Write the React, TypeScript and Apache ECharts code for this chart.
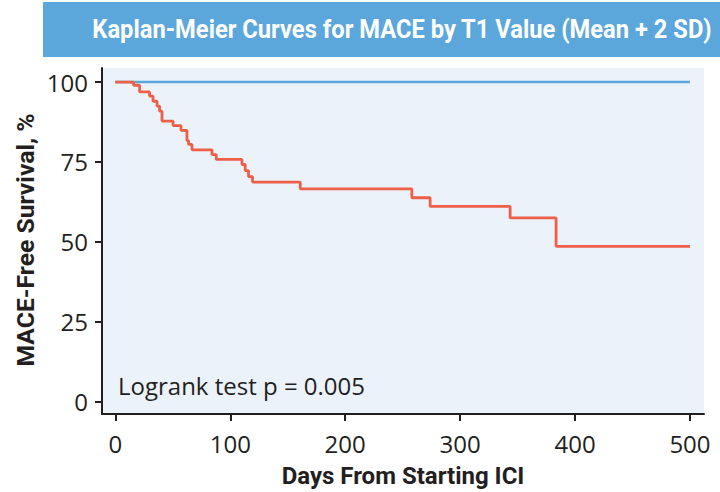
import React, { useEffect, useRef } from "react";
import * as echarts from "echarts";

const titleText = "Kaplan-Meier Curves for MACE by T1 Value (Mean + 2 SD)";
const yAxisTitle = "MACE-Free Survival, %";
const xAxisTitle = "Days From Starting ICI";
const annotation = "Logrank test p = 0.005";

const xTicks = [0, 100, 200, 300, 400, 500];
const yTicks = [0, 25, 50, 75, 100];

// Low T1 group (blue): no events
const lowDays = [0, 500];
const lowSurv = [100, 100];

// High T1 group (red): step survival
const highDays = [0, 15.9, 21.1, 29.8, 32.8, 36.3, 38.5, 40.6, 50.2, 57.1, 62.3, 63.7, 66.7, 84.1, 87.8, 110.2, 113, 115.9, 119.4, 160.9, 258, 273.9, 343.5, 383.5, 500];
const highSurv = [100, 99.0, 96.9, 95.6, 94.0, 92.5, 90.9, 87.8, 86.4, 84.9, 81.7, 80.5, 78.8, 77.3, 75.8, 74.2, 72.3, 70.4, 68.7, 66.6, 63.8, 61.1, 57.5, 48.6, 48.6];

const BLUE = "#5ba7dc";
const RED = "#ef5f48";
const AXIS = "#231f20";

export default function App() {
  const ref = useRef<HTMLDivElement>(null);
  useEffect(() => {
    if (!ref.current) return;
    const chart = echarts.init(ref.current, undefined, { renderer: "svg" });
    const option: any = {
      animation: false,
      backgroundColor: "#ffffff",
      grid: {
        left: 102,
        right: 16,
        top: 68,
        bottom: 78,
        show: true,
        backgroundColor: "#ebf2fa",
        borderWidth: 0,
      },
      xAxis: {
        type: "value",
        min: -11.6,
        max: 512.2,
        splitLine: { show: false },
        axisLine: { show: true, onZero: false, lineStyle: { color: AXIS, width: 2 } },
        axisTick: { show: true, customValues: xTicks, length: 7, lineStyle: { color: AXIS, width: 2 } },
        axisLabel: {
          customValues: xTicks,
          color: AXIS,
          fontFamily: "Open Sans",
          fontSize: 24,
          margin: 17,
        },
      },
      yAxis: {
        type: "value",
        min: -3.86,
        max: 104.4,
        splitLine: { show: false },
        axisLine: { show: true, onZero: false, lineStyle: { color: AXIS, width: 2 } },
        axisTick: { show: true, customValues: yTicks, length: 7, lineStyle: { color: AXIS, width: 2 } },
        axisLabel: {
          customValues: yTicks,
          color: AXIS,
          fontFamily: "Open Sans",
          fontSize: 24,
          margin: 14,
        },
      },
      graphic: [
        {
          type: "rect",
          shape: { x: 43, y: 2, width: 677, height: 55 },
          style: { fill: BLUE },
          silent: true,
        },
        {
          type: "text",
          x: 402,
          y: 29,
          scaleX: 0.913,
          style: {
            text: titleText,
            fill: "#ffffff",
            font: "bold 26px Roboto",
            textAlign: "center",
            textVerticalAlign: "middle",
          },
        },
        {
          type: "text",
          x: 403,
          y: 476,
          style: {
            text: xAxisTitle,
            fill: AXIS,
            font: "bold 24px Roboto",
            textAlign: "center",
            textVerticalAlign: "middle",
          },
        },
        {
          type: "text",
          x: 26,
          y: 240,
          rotation: Math.PI / 2,
          scaleX: 1.03,
          style: {
            text: yAxisTitle,
            fill: AXIS,
            font: "bold 24px Roboto",
            textAlign: "center",
            textVerticalAlign: "middle",
          },
        },
        {
          type: "text",
          x: 118,
          y: 385,
          style: {
            text: annotation,
            fill: AXIS,
            font: "24px 'Open Sans'",
            textAlign: "left",
            textVerticalAlign: "middle",
          },
        },
      ],
      series: [
        {
          type: "line",
          step: "end",
          data: lowDays.map((d, i) => [d, lowSurv[i]]),
          showSymbol: false,
          lineStyle: { color: BLUE, width: 2.5 },
          z: 2,
        },
        {
          type: "line",
          step: "end",
          data: highDays.map((d, i) => [d, highSurv[i]]),
          showSymbol: false,
          lineStyle: { color: RED, width: 2.8 },
          z: 3,
        },
      ],
    };
    chart.setOption(option);
    return () => chart.dispose();
  }, []);
  return <div ref={ref} style={{ position: "fixed", left: 0, top: 0, width: 720, height: 492 }} />;
}
